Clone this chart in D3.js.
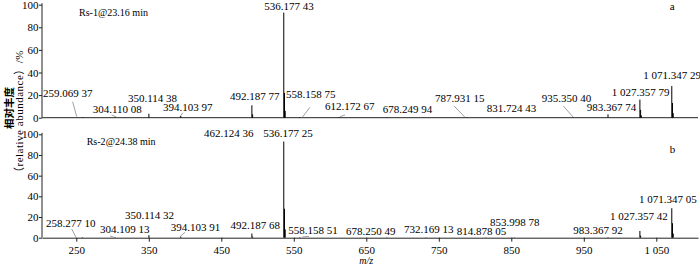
<!DOCTYPE html>
<html><head><meta charset="utf-8">
<script src="https://cdn.jsdelivr.net/npm/d3@7"></script>
<style>
body{margin:0;background:#fff}
svg{display:block}
text{font-family:"Liberation Serif","Noto Sans CJK SC",serif;fill:#000}
</style>
</head><body><svg id="c" width="700" height="266"></svg>
<script>
// ---------- data ----------
const xTicks = [250,350,450,550,650,750,850,950,1050];
const xTickLabels = ["250","350","450","550","650","750","850","950","1 050"];
const yTicks = [0,20,40,60,80,100];
const panelLetters = ["a","b"];
const panelTitles = ["Rs-1@23.16 min","Rs-2@24.38 min"];
const yLabelLines = ["相对丰度","（relative abundance）/%"];
const xLabel = "m/z";

// peaks: [m/z, relative abundance %]
const peaksA = [[259.07,0.5],[304.11,0.3],[350.11,3.5],[394.10,1.5],[492.19,11],[493.19,3],
  [536.18,93],[537.18,22],[538.18,6],[558.16,0.5],[612.17,0.5],[678.25,0.3],[787.93,0.3],
  [831.72,0.3],[935.35,0.3],[983.37,3],[1027.36,16],[1028.36,7],[1029.36,2],
  [1071.35,28],[1072.35,13],[1073.35,4]];
const peaksB = [[258.28,0.5],[304.11,0.3],[350.11,2.5],[394.10,1],[492.19,4],[493.19,1],
  [536.18,93],[537.18,28],[538.18,8],[558.16,0.5],[678.25,0.3],[732.17,0.3],[814.88,0.3],
  [854.00,0.3],[983.37,0.5],[1027.36,6.5],[1028.36,2],[1071.35,28.5],[1072.35,14],[1073.35,4]];

// peak annotations: text, anchor [m/z, %] of the text's left baseline
const labelsA = ["259.069 37","304.110 08","350.114 38","394.103 97","492.187 77","536.177 43",
  "558.158 75","612.172 67","678.249 94","787.931 15","831.724 43","935.350 40","983.367 74",
  "1 027.357 79","1 071.347 29"];
const labelAnchorsA = [[204.1,18.6],[272.6,4.2],[321.3,13.5],[369.6,5.9],[462,15.7],[509.3,95.3],
  [539.2,17.2],[593,6.8],[672.6,3.9],[744.8,13.6],[816.1,5.3],[891.9,14.2],[954,6.2],
  [988.5,19.5],[1032.1,34.2]];
const labelsB = ["258.277 10","304.109 13","350.114 32","394.103 91","462.124 36","492.187 68",
  "536.177 25","558.158 51","678.250 49","732.169 13","814.878 05","853.998 78","983.367 92",
  "1 027.357 42","1 071.347 05"];
const labelAnchorsB = [[208.2,10.8],[282.7,4.3],[317.2,17.8],[380.2,6.5],[426.1,97.7],[462.7,8.4],
  [507.9,97.7],[542.4,3.3],[622,2.6],[702,4.3],[774.7,2.6],[820.6,11.6],[935.5,3.3],
  [986.2,17.1],[1026.1,33.3]];

// leader lines: [m1,%1,m2,%2]
const leadersA = [[245.0,14.2,250.6,0.9],[298.8,2.4,305.7,0.4],[396.8,4.4,393.0,0.9],
  [572.3,9.2,561.7,0.4],[620.6,2.4,613.7,0.9],[771,10.4,786.1,0.4],[921.7,10.4,935.5,0.4]];
const leadersB = [[243.7,8.4,249.6,0.4],[296.5,1.6,303.4,0],[399.9,5.2,393,1],[562,0.8,571,1.2]];

const titleAnchors = [[253.7,90],[264.3,89.7]];
const letterAnchors = [[1068.6,95.3],[1068.6,81.9]];
const xDomain = [202.7,1107.5];

// ---------- drawing ----------
const svg = d3.select("#c");
const left = 42, right = 698;
const x = d3.scaleLinear().domain(xDomain).range([left,right]);
const panelRanges = [[117.7,4.7],[237.7,134.3]];
const peaks = [peaksA,peaksB];
const labels = [labelsA,labelsB];
const anchors = [labelAnchorsA,labelAnchorsB];
const leaders = [leadersA,leadersB];

panelLetters.forEach((letter,i)=>{
  const y = d3.scaleLinear().domain([0,100]).range(panelRanges[i]);
  const g = svg.append("g");

  // y axis
  const ya = g.append("g").attr("transform",`translate(${left},0)`)
    .call(d3.axisLeft(y).tickValues(yTicks).tickSize(3).tickPadding(0.5).tickSizeOuter(0));
  ya.select(".domain").attr("stroke","#222").attr("d",`M0,${y(0)}V${y(100)-1.5}`);
  ya.selectAll(".tick line").attr("stroke","#222");
  ya.selectAll(".tick text").style("font-size","11px").attr("fill","#000");

  // x axis
  if(i===1){
    const xa = g.append("g").attr("transform",`translate(0,${y(0)})`)
      .call(d3.axisBottom(x).tickValues(xTicks).tickFormat((d,k)=>xTickLabels[k])
        .tickSize(4).tickPadding(5).tickSizeOuter(0));
    xa.select(".domain").attr("stroke","#222");
    xa.selectAll(".tick line").attr("stroke","#222");
    xa.selectAll(".tick text").style("font-size","11px").attr("fill","#000");
  } else {
    g.append("line").attr("x1",x(xDomain[0])).attr("x2",x(xDomain[1]))
      .attr("y1",y(0)).attr("y2",y(0)).attr("stroke","#222");
  }

  // leaders
  g.selectAll("line.leader").data(leaders[i]).join("line").attr("class","leader")
    .attr("x1",d=>x(d[0])).attr("y1",d=>y(d[1])).attr("x2",d=>x(d[2])).attr("y2",d=>y(d[3]))
    .attr("stroke","#888").attr("stroke-width",0.8);

  // peaks
  g.selectAll("line.peak").data(peaks[i]).join("line").attr("class","peak")
    .attr("x1",d=>x(d[0])).attr("x2",d=>x(d[0]))
    .attr("y1",y(0)).attr("y2",d=>y(d[1]))
    .attr("stroke","#000").attr("stroke-width",1);

  // peak labels
  g.selectAll("text.lab").data(labels[i]).join("text").attr("class","lab")
    .attr("x",(d,k)=>x(anchors[i][k][0])).attr("y",(d,k)=>y(anchors[i][k][1]))
    .style("font-size","11px").text(d=>d);

  // title
  g.append("text").attr("x",x(titleAnchors[i][0])).attr("y",y(titleAnchors[i][1]))
    .style("font-size","11px").attr("textLength",69).attr("lengthAdjust","spacingAndGlyphs")
    .text(panelTitles[i]);
  // letter
  g.append("text").attr("x",x(letterAnchors[i][0])).attr("y",y(letterAnchors[i][1]))
    .style("font-size","11px").text(letter);
});

// x label
svg.append("text").attr("x",x(650)).attr("y",264).attr("text-anchor","middle")
  .style("font-size","10px").style("font-style","italic").text(xLabel);

// y label (two lines)
svg.append("text").attr("transform","translate(12.5,108) rotate(-90)")
  .attr("text-anchor","middle").style("font-size","10.5px")
  .style("font-family","'Noto Sans CJK SC',sans-serif").style("font-weight","bold").text(yLabelLines[0]);
svg.append("text").attr("transform","translate(23,114) rotate(-90)")
  .attr("text-anchor","middle").style("font-size","11px").style("letter-spacing","0.5px")
  .text(yLabelLines[1]);
</script>
</body></html>
